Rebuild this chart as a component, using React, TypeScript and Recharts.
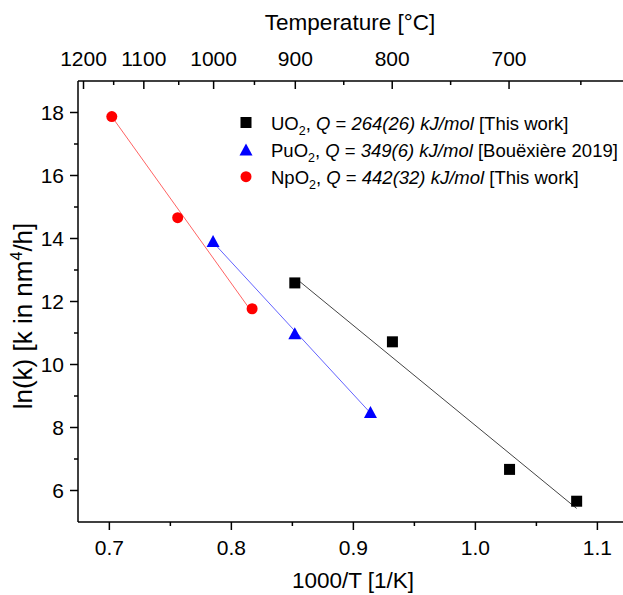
import { ScatterChart, Scatter, XAxis, YAxis } from "recharts";

const FONT = '"Liberation Sans", Arial, sans-serif';

// measured points (x = 1000/T in 1/K, y = ln(k))
const uo2X = [0.852, 0.932, 1.028, 1.083];
const uo2Y = [12.59, 10.72, 6.67, 5.66];
const puo2X = [0.785, 0.852, 0.914];
const puo2Y = [13.89, 10.96, 8.46];
const npo2X = [0.702, 0.756, 0.817];
const npo2Y = [17.87, 14.66, 11.77];

// fitted lines, start and end
const uo2FitX = [0.853, 1.083];
const uo2FitY = [12.73, 5.43];
const puo2FitX = [0.785, 0.914];
const puo2FitY = [13.88, 8.46];
const npo2FitX = [0.702, 0.818];
const npo2FitY = [17.87, 11.6];

// axes
const bottomTicks = [0.7, 0.75, 0.8, 0.85, 0.9, 0.95, 1.0, 1.05, 1.1];
const bottomLabels = ["0.7", "", "0.8", "", "0.9", "", "1.0", "", "1.1"];
const leftTicks = [6, 7, 8, 9, 10, 11, 12, 13, 14, 15, 16, 17, 18];
const tempC = [1200, 1100, 1000, 900, 800, 700, 600];

const X_DOMAIN = [0.6743, 1.13];
const Y_DOMAIN = [5, 19];

const toPoints = (xs: number[], ys: number[]) =>
  xs.map((x, i) => ({ x, y: ys[i] }));

// top axis: 1000/T positions of the Celsius ticks, minor ticks halfway
const tempPos = tempC.map((t) => 1000 / (t + 273.15));
const topTicks: number[] = [];
const topLabels: Record<string, string> = {};
tempPos.forEach((p, i) => {
  if (i < tempPos.length - 1) {
    topTicks.push(p);
    topLabels[p.toFixed(5)] = String(tempC[i]);
  }
  if (i > 0) {
    const mid = (tempPos[i - 1] + p) / 2;
    topTicks.push(mid);
  }
});

const BottomTick = (props: any) => {
  const { x, y, index } = props;
  const label = bottomLabels[index];
  return (
    <g>
      <line x1={x} x2={x} y1={y} y2={y + (label ? 8 : 4)} stroke="#000" strokeWidth={1.5} />
      {label && (
        <text x={x} y={y + 33} textAnchor="middle" fontSize={21} fontFamily={FONT} fill="#000">
          {label}
        </text>
      )}
    </g>
  );
};

const TopTick = (props: any) => {
  const { x, y, payload } = props;
  const label = topLabels[Number(payload.value).toFixed(5)];
  return (
    <g>
      <line x1={x} x2={x} y1={y} y2={y + (label ? 8 : 4)} stroke="#000" strokeWidth={1.5} />
      {label && (
        <text x={x} y={y - 15} textAnchor="middle" fontSize={21} fontFamily={FONT} fill="#000">
          {label}
        </text>
      )}
    </g>
  );
};

const LeftTick = (props: any) => {
  const { x, y, payload } = props;
  const major = payload.value % 2 === 0;
  return (
    <g>
      <line x1={x} x2={x - (major ? 8 : 4)} y1={y} y2={y} stroke="#000" strokeWidth={1.5} />
      {major && (
        <text x={x - 14} y={y + 7.5} textAnchor="end" fontSize={21} fontFamily={FONT} fill="#000">
          {payload.value}
        </text>
      )}
    </g>
  );
};

const Square = (props: any) => (
  <rect x={props.cx - 5.5} y={props.cy - 5.5} width={11} height={11} fill="#000" />
);
const Triangle = (props: any) => (
  <path
    d={`M${props.cx},${props.cy - 7} L${props.cx + 6.5},${props.cy + 5} L${props.cx - 6.5},${props.cy + 5} Z`}
    fill="#0000ff"
  />
);
const Circle = (props: any) => <circle cx={props.cx} cy={props.cy} r={5.5} fill="#ff0000" />;
const NoShape = () => <g />;

export default function App() {
  return (
    <div
      style={{
        position: "absolute",
        left: 0,
        top: 0,
        width: 623,
        height: 595,
        overflow: "hidden",
        background: "#fff",
      }}
    >
      <ScatterChart width={660} height={595} margin={{ top: 0, right: 26, bottom: 0, left: 0 }}>
        <XAxis
          xAxisId="bottom"
          dataKey="x"
          type="number"
          orientation="bottom"
          domain={X_DOMAIN}
          allowDataOverflow
          ticks={bottomTicks}
          interval={0}
          height={73}
          tickSize={0}
          tickMargin={0}
          tickLine={false}
          axisLine={{ stroke: "#000", strokeWidth: 1.5 }}
          tick={<BottomTick />}
        />
        <XAxis
          xAxisId="top"
          dataKey="x"
          type="number"
          orientation="top"
          domain={X_DOMAIN}
          allowDataOverflow
          ticks={topTicks}
          interval={0}
          height={81}
          tickSize={0}
          tickMargin={0}
          tickLine={false}
          axisLine={{ stroke: "#000", strokeWidth: 1.5 }}
          tick={<TopTick />}
        />
        <YAxis
          dataKey="y"
          type="number"
          domain={Y_DOMAIN}
          allowDataOverflow
          ticks={leftTicks}
          interval={0}
          width={78}
          tickSize={0}
          tickMargin={0}
          tickLine={false}
          axisLine={{ stroke: "#000", strokeWidth: 1.5 }}
          tick={<LeftTick />}
        />
        <Scatter
          xAxisId="bottom"
          data={toPoints(npo2FitX, npo2FitY)}
          line={{ stroke: "#ff6363", strokeWidth: 1 }}
          shape={NoShape}
          isAnimationActive={false}
        />
        <Scatter
          xAxisId="bottom"
          data={toPoints(puo2FitX, puo2FitY)}
          line={{ stroke: "#6363ff", strokeWidth: 1 }}
          shape={NoShape}
          isAnimationActive={false}
        />
        <Scatter
          xAxisId="bottom"
          data={toPoints(uo2FitX, uo2FitY)}
          line={{ stroke: "#444", strokeWidth: 1 }}
          shape={NoShape}
          isAnimationActive={false}
        />
        <Scatter xAxisId="bottom" data={toPoints(uo2X, uo2Y)} shape={Square} isAnimationActive={false} />
        <Scatter xAxisId="bottom" data={toPoints(puo2X, puo2Y)} shape={Triangle} isAnimationActive={false} />
        <Scatter xAxisId="bottom" data={toPoints(npo2X, npo2Y)} shape={Circle} isAnimationActive={false} />
      </ScatterChart>

      <svg
        width={623}
        height={595}
        style={{ position: "absolute", left: 0, top: 0, pointerEvents: "none" }}
        fontFamily={FONT}
      >
        <text x={350} y={30} textAnchor="middle" fontSize={22.5}>
          Temperature [°C]
        </text>
        <text x={353} y={588} textAnchor="middle" fontSize={22.5}>
          1000/T [1/K]
        </text>
        <text x={32} y={316} textAnchor="middle" fontSize={26} transform="rotate(-90 32 316)">
          ln(k) [k in nm<tspan dy={-10} fontSize={16}>4</tspan>
          <tspan dy={10}>/h]</tspan>
        </text>

        <rect x={240.5} y={117} width={11} height={11} fill="#000" />
        <text x={271} y={129.5} fontSize={18.5}>
          UO<tspan dy={5} fontSize={12.5}>2</tspan>
          <tspan dy={-5}>, </tspan>
          <tspan fontStyle="italic">Q</tspan> = <tspan fontStyle="italic">264(26) kJ/mol</tspan> [This work]
        </text>

        <path d="M246,143.5 L252.5,155.5 L239.5,155.5 Z" fill="#0000ff" />
        <text x={271} y={157} fontSize={18.5}>
          PuO<tspan dy={5} fontSize={12.5}>2</tspan>
          <tspan dy={-5}>, </tspan>
          <tspan fontStyle="italic">Q</tspan> = <tspan fontStyle="italic">349(6) kJ/mol</tspan> [Bouëxière 2019]
        </text>

        <circle cx={246} cy={176.7} r={5.5} fill="#ff0000" />
        <text x={271} y={183.5} fontSize={18.5}>
          NpO<tspan dy={5} fontSize={12.5}>2</tspan>
          <tspan dy={-5}>, </tspan>
          <tspan fontStyle="italic">Q</tspan> = <tspan fontStyle="italic">442(32) kJ/mol</tspan> [This work]
        </text>
      </svg>
    </div>
  );
}
